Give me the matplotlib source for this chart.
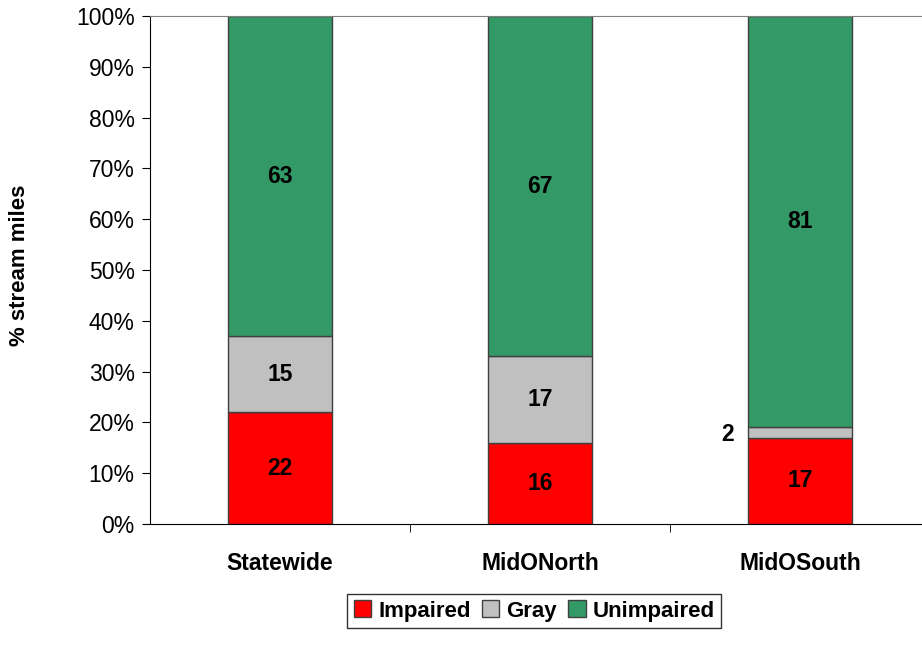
import numpy as np
import matplotlib.pyplot as plt
from matplotlib.ticker import PercentFormatter

plt.rcParams["font.family"] = ["Liberation Sans", "DejaVu Sans"]

categories = ["Statewide", "MidONorth", "MidOSouth"]
impaired = [22, 16, 17]
gray = [15, 17, 2]
unimpaired = [63, 67, 81]

fig = plt.figure(figsize=(9.22, 6.47), dpi=100)
ax = fig.add_axes([150 / 922, 123 / 647, 780 / 922, 508 / 647])

x = np.arange(len(categories))
w = 0.4
edge = dict(edgecolor="#404040", linewidth=1.0)
b1 = ax.bar(x, impaired, w, color="#ff0000", label="Impaired", **edge)
b2 = ax.bar(x, gray, w, bottom=impaired, color="#c0c0c0", label="Gray", **edge)
bottom2 = np.array(impaired) + np.array(gray)
b3 = ax.bar(x, unimpaired, w, bottom=bottom2, color="#339966", label="Unimpaired", **edge)

lab = dict(fontsize=16.5, fontweight="bold", ha="center", va="center")
for i in range(len(categories)):
    ax.text(x[i], impaired[i] / 2, str(impaired[i]), **lab)
    if gray[i] >= 5:
        ax.text(x[i], impaired[i] + gray[i] / 2, str(gray[i]), **lab)
    else:
        ax.text(x[i] - w / 2 - 0.08, impaired[i] + gray[i] / 2 - 0.3, str(gray[i]), **lab)
    ax.text(x[i], bottom2[i] + unimpaired[i] / 2, str(unimpaired[i]), **lab)

ax.set_xlim(-0.5, 2.5)
ax.set_ylim(0, 100)
ax.set_yticks(range(0, 101, 10))
ax.yaxis.set_major_formatter(PercentFormatter(decimals=0))
ax.set_xticks(x)
ax.set_xticklabels(categories, fontsize=16.5, fontweight="bold")
ax.set_xticks([0.5, 1.5, 2.5], minor=True)
ax.tick_params(axis="x", which="major", length=0, pad=20)
ax.tick_params(axis="x", which="minor", length=6, direction="out")
ax.tick_params(axis="y", labelsize=16.5, length=6, direction="out", pad=5)
ax.set_ylabel("% stream miles", fontsize=16, fontweight="bold")
ax.yaxis.set_label_coords(-120 / 780, 0.51)

ax.spines["right"].set_visible(False)
ax.spines["top"].set_color("#808080")
ax.spines["top"].set_linewidth(0.8)

fig.legend(handles=[b1, b2, b3], loc="center", bbox_to_anchor=(534 / 922, 1 - 611 / 647),
           ncol=3, prop={"weight": "bold", "size": 16}, frameon=True,
           fancybox=False, edgecolor="black", handlelength=0.8, handleheight=0.8,
           handletextpad=0.3, columnspacing=0.5, borderpad=0.3)

fig.savefig("out.png", dpi=100)
